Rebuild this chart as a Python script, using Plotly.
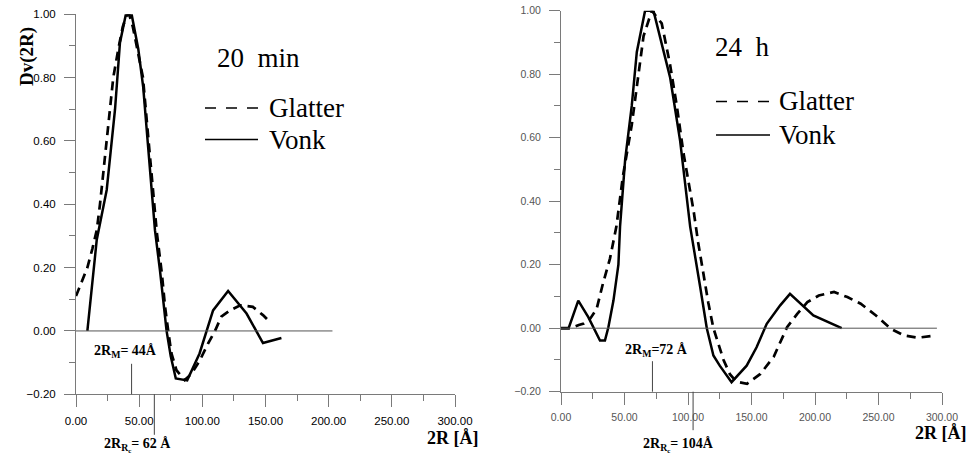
import plotly.graph_objects as go

# ---------------- data ----------------
left_glatter_x = [0, 4, 9, 13, 16.5, 19, 22, 25.5, 29.5, 33.5, 37, 40, 42, 45, 49, 53, 57, 61, 64, 68,
                  70.5, 73, 75.5, 79.5, 86, 91.5, 98, 104.5, 110, 115, 122, 130, 140, 148, 152]
left_glatter_y = [0.11, 0.15, 0.2, 0.26, 0.32, 0.4, 0.52, 0.66, 0.8, 0.89, 0.96, 0.995, 1.0, 0.96, 0.88,
                  0.8, 0.62, 0.455, 0.31, 0.18, 0.076, 0.0, -0.07, -0.124, -0.155, -0.135, -0.093,
                  -0.04, 0.0, 0.045, 0.065, 0.081, 0.076, 0.05, 0.034]

left_vonk_x = [9, 16.4, 24.3, 30.9, 34.8, 39.5, 44, 49.3, 53.2, 62.5, 66.5, 69, 71.7, 75, 79, 88,
               97.8, 108.5, 120.4, 135, 148, 162.6]
left_vonk_y = [0, 0.287, 0.445, 0.70, 0.91, 1.0, 1.0, 0.89, 0.77, 0.318, 0.19, 0.107, 0.0, -0.08,
               -0.15, -0.156, -0.071, 0.065, 0.126, 0.055, -0.038, -0.022]

right_glatter_x = [0, 8, 14, 18, 23, 28, 33, 38.6, 43.6, 48.8, 55.7, 61, 65, 71.5, 79.3, 85.9, 91.2,
                   96.5, 104.4, 108, 112, 116, 120, 124, 128, 133, 138, 146.5, 157, 167.5, 178, 186,
                   194, 203, 215, 225.5, 236, 248, 259.8, 270, 281, 295]
right_glatter_y = [0, 0, 0.01, 0.015, 0.03, 0.06, 0.14, 0.22, 0.32, 0.48, 0.64, 0.80, 0.92, 1.0, 0.96,
                   0.83, 0.70, 0.55, 0.37, 0.27, 0.17, 0.08, 0.0, -0.05, -0.1, -0.145, -0.168, -0.175,
                   -0.144, -0.09, 0.003, 0.045, 0.082, 0.103, 0.114, 0.098, 0.077, 0.04, -0.002,
                   -0.023, -0.03, -0.023]

right_vonk_x = [0, 6, 13.6, 21.5, 30.7, 34.6, 37.3, 41.3, 45.2, 46.5, 50.5, 55.7, 59.7, 66.2, 72.8,
                80.6, 85.9, 93.8, 101.7, 109.6, 114.8, 120, 125, 134.3, 146.2, 154, 162, 172.6,
                180.3, 198.7, 221]
right_vonk_y = [0, 0, 0.087, 0.035, -0.039, -0.039, 0.003, 0.087, 0.20, 0.32, 0.53, 0.70, 0.87, 1.0,
                1.0, 0.88, 0.79, 0.59, 0.32, 0.13, 0.0, -0.086, -0.118, -0.17, -0.118, -0.06, 0.014,
                0.072, 0.108, 0.04, 0.0]

x_ticks = [0, 50, 100, 150, 200, 250, 300]
y_ticks = [-0.2, 0.0, 0.2, 0.4, 0.6, 0.8, 1.0]

left_title = "20\u00a0\u00a0min"
right_title = "24\u00a0\u00a0h"
series_names = ["Glatter", "Vonk"]
left_rm, left_rrc = 44, 62
right_rm, right_rrc = 72, 104
left_zero_end, right_zero_end = 203, 296

# ---------------- figure ----------------
W, H = 971, 459
def px(x): return x / W
def py(y): return 1 - y / H

BLACK = "#000000"
AX = "#7a7a7a"
DASH = "9px,6px"
SERIF = "Liberation Serif"

fig = go.Figure()
fig.add_trace(go.Scatter(x=left_glatter_x, y=left_glatter_y, mode="lines", name=series_names[0],
                         line=dict(color=BLACK, width=2.7, dash=DASH), xaxis="x", yaxis="y", showlegend=False))
fig.add_trace(go.Scatter(x=left_vonk_x, y=left_vonk_y, mode="lines", name=series_names[1],
                         line=dict(color=BLACK, width=2.5), xaxis="x", yaxis="y", showlegend=False))
fig.add_trace(go.Scatter(x=right_glatter_x, y=right_glatter_y, mode="lines", name=series_names[0],
                         line=dict(color=BLACK, width=2.7, dash=DASH), xaxis="x2", yaxis="y2", showlegend=False))
fig.add_trace(go.Scatter(x=right_vonk_x, y=right_vonk_y, mode="lines", name=series_names[1],
                         line=dict(color=BLACK, width=2.5), xaxis="x2", yaxis="y2", showlegend=False))

def xaxis(domain, anchor, font):
    return dict(domain=domain, anchor=anchor, range=[0, 300], tickvals=x_ticks, tickformat=".2f",
                ticks="outside", ticklen=12, tickcolor=AX, tickwidth=1, showline=True, linecolor=AX,
                linewidth=1, showgrid=False, zeroline=False, tickfont=font, ticklabelstandoff=4,
                automargin=False,
                minor=dict(dtick=25, ticks="outside", ticklen=6, tickcolor=AX, showgrid=False))

def yaxis(domain, anchor, font):
    return dict(domain=domain, anchor=anchor, range=[-0.2, 1.0], tickvals=y_ticks, tickformat=".2f",
                ticks="outside", ticklen=11, tickcolor=AX, tickwidth=1, showline=True, linecolor=AX,
                linewidth=1, showgrid=False, zeroline=False, tickfont=font, ticklabelstandoff=6,
                automargin=False,
                minor=dict(dtick=0.1, ticks="outside", ticklen=6, tickcolor=AX, showgrid=False))

left_font = dict(family="Liberation Sans", size=11.5, color="#000000")
right_font = dict(family="Liberation Sans", size=10.5, color="#555555")

fig.update_layout(
    width=W, height=H, margin=dict(l=0, r=0, t=0, b=0, autoexpand=False),
    paper_bgcolor="white", plot_bgcolor="white",
    xaxis=xaxis([px(76), px(455)], "y", left_font),
    yaxis=yaxis([py(394.3), py(14.2)], "x", left_font),
    xaxis2=xaxis([px(561), px(942)], "y2", right_font),
    yaxis2=yaxis([py(391.7), py(10.7)], "x2", right_font),
)

# zero lines
fig.add_shape(type="line", xref="x", yref="y", x0=0, x1=left_zero_end, y0=0, y1=0,
              line=dict(color="#555555", width=1))
fig.add_shape(type="line", xref="x2", yref="y2", x0=0, x1=right_zero_end, y0=0, y1=0,
              line=dict(color="#555555", width=1))

ann = []
def text(x, y, t, size, bold=False, xanchor="center", angle=0):
    ann.append(dict(xref="paper", yref="paper", x=px(x), y=py(y), text=("<b>%s</b>" % t) if bold else t,
                    showarrow=False, xanchor=xanchor, yanchor="middle", textangle=angle,
                    font=dict(family=SERIF, size=size, color=BLACK)))

def marker(xr, yr, xv, ay):
    ann.append(dict(xref=xr, yref=yr, x=xv, y=-0.2, text="", showarrow=True, arrowhead=0,
                    arrowwidth=1, arrowcolor="#444444", ax=0, ay=ay, axref="pixel", ayref="pixel",
                    standoff=0, startstandoff=0))

# panel titles and legends
text(215, 58, left_title, 27, xanchor="left")
text(713, 47, right_title, 27, xanchor="left")
text(267, 108, series_names[0], 27, xanchor="left")
text(267, 140, series_names[1], 27, xanchor="left")
text(777, 101, series_names[0], 27, xanchor="left")
text(777, 135, series_names[1], 27, xanchor="left")
for (x0, x1, yd, ys) in [(205, 258, 108, 139.5), (716, 770, 101.5, 135)]:
    fig.add_shape(type="line", xref="paper", yref="paper", x0=px(x0), x1=px(x1), y0=py(yd), y1=py(yd),
                  line=dict(color=BLACK, width=1.5, dash="11px,10px"))
    fig.add_shape(type="line", xref="paper", yref="paper", x0=px(x0), x1=px(x1), y0=py(ys), y1=py(ys),
                  line=dict(color=BLACK, width=1.5))

# axis titles
text(27, 57, "Dv(2R)", 19, bold=True, angle=-90)
text(453, 438, "2R [Å]", 18, bold=True)
text(941, 433, "2R [Å]", 18, bold=True)

# characteristic sizes
marker("x", "y", left_rm, -32)
marker("x", "y", left_rrc, 42)
marker("x2", "y2", right_rm, -32)
marker("x2", "y2", right_rrc, 40)
text(125, 351, "2R<sub>M</sub>= %dÅ" % left_rm, 14, bold=True)
text(137, 445, "2R<sub>R<sub>c</sub></sub>= %d Å" % left_rrc, 14, bold=True)
text(656, 350, "2R<sub>M</sub>=%d Å" % right_rm, 14, bold=True)
text(678, 445, "2R<sub>R<sub>c</sub></sub>= %dÅ" % right_rrc, 14, bold=True)

fig.update_layout(annotations=ann)
fig.write_html("out.html", config={"displayModeBar": False},
               post_script="document.body.style.margin='0';document.body.style.overflow='hidden';")
